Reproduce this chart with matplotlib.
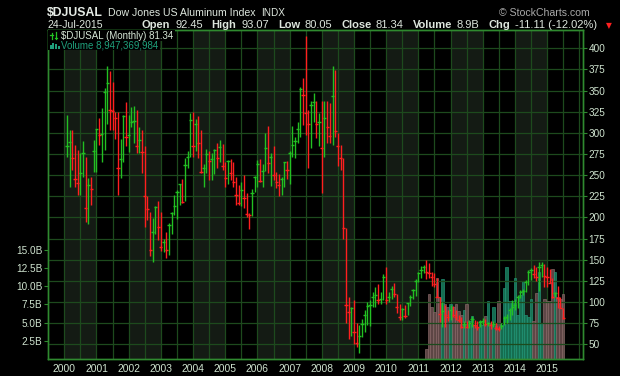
import matplotlib
matplotlib.use("Agg")
import matplotlib.pyplot as plt
from matplotlib.patches import Rectangle
from matplotlib.lines import Line2D
import numpy as np

plt.rcParams['font.family'] = ['Liberation Sans', 'DejaVu Sans']

# monthly bars of $DJUSAL, Feb 2000 .. Jul 2015 (month index 0 = Jan 2000)
first_month = 1
highs = [321, 303, 303, 286, 280, 276, 290, 272, 247, 248, 292, 305, 318, 329, 353, 379,
         373, 360, 325, 325, 293, 321, 336, 321, 331, 332, 327, 307, 303, 284, 225,
         206, 199, 214, 219, 206, 174, 183, 193, 206, 226, 232, 240, 245, 270, 278, 324,
         325, 316, 320, 303, 263, 281, 278, 276, 281, 288, 292, 287, 266, 268, 269, 266,
         248, 238, 241.5, 250, 228.5, 205, 234, 249, 268, 269, 263, 300, 308, 276, 284.5,
         254, 251, 248, 265, 267, 278, 308, 295.5, 313, 354, 365, 414, 327, 338, 347,
         338, 324, 338, 338, 338, 335, 379, 374, 300, 286, 270, 187, 106, 94, 102, 75,
         73, 80, 90, 100, 102, 112, 118, 121, 112, 133, 141, 112, 119, 122, 109, 98,
         92.5, 96.5, 99, 108, 115, 127, 136, 142.6, 143.8, 149.7, 146, 136, 134, 128, 106,
         100, 97, 90, 97, 95, 90, 85, 82, 77, 77, 79, 84, 79, 77, 79, 81,
         79.5, 76, 77, 77, 75, 72, 75.6, 83.5, 85.5, 92.5, 102.4, 103, 108.3, 114.2, 115,
         126, 138, 140, 144, 141, 147.7, 147, 144.5, 141.7, 138.6, 128, 112.2, 118.9,
         106.3, 93.07]
lows = [271, 236, 256, 236, 227, 227, 248, 194, 192, 215, 254, 254, 286, 266, 280, 311,
        303, 303, 293, 227, 247, 265, 284, 277, 307, 288, 276, 276, 252, 189, 197,
        154, 147, 180, 173, 160, 159, 152, 156, 180, 203, 198, 215, 217, 219, 259, 272,
        271, 278, 270, 253, 236, 252, 244, 244, 251, 258, 266, 256, 236, 240, 244, 236,
        215, 215, 213, 211, 200, 186, 202, 230.5, 236, 242, 236, 255, 253, 237, 244,
        235, 225, 226.5, 236, 246, 239, 272, 270, 288, 295, 309, 298, 258, 282.5, 313,
        294, 284, 228.5, 272, 288, 288, 286, 295.5, 261, 256, 175, 75, 56, 60, 50, 47,
        40, 59, 64, 73, 72, 94, 94, 98, 98, 102, 98, 100, 104, 106, 87, 79,
        79, 80.7, 85, 95, 104, 107, 124, 128, 134, 127, 128, 119, 118, 106, 76,
        70, 71, 78, 79, 82, 79, 76, 69, 69, 69, 69, 71, 69, 67, 71, 73,
        71.7, 72, 68, 71, 67, 66, 67.7, 72.8, 74.8, 78.7, 84.7, 90.6, 92.5, 104.4, 108,
        112, 120, 126, 128, 125, 113, 130, 118, 118, 122, 104.3, 106.3, 92.5,
        92.5, 80.05]
closes = [284.5, 289, 270, 245, 241, 252, 276, 211, 238, 234, 279, 305, 297.5, 298.5, 348, 359,
          326.5, 326, 317, 258, 269, 320.5, 295.5, 298, 313, 314, 284, 292, 277, 225, 210,
          161, 183, 212, 189, 165, 170.5, 161, 191, 205, 213, 230.5, 239, 218, 261.6, 272, 315,
          284.5, 310, 287.6, 254, 259, 274.6, 266.7, 269, 279.7, 270, 283, 261, 247, 267, 253, 242,
          226.5, 217.5, 233, 222.6, 204, 203, 228.5, 247.4, 263, 243.5, 255, 282, 264, 271, 250,
          242, 238, 246, 265, 256, 276, 285.6, 290.8, 304, 351.5, 345, 323, 311, 333, 337,
          310, 313, 282, 317, 306.5, 296, 343.6, 302, 285, 270, 188, 96, 88, 93, 64, 52,
          60, 74.5, 84.6, 95, 97, 106, 108, 102, 104, 129, 102, 106, 115, 109, 94, 82,
          91.5, 83, 98.5, 106.3, 114, 125, 134.7, 137.9, 141.8, 136, 134, 129, 121, 106.3, 86,
          89, 85, 82, 91, 85, 82, 79, 71, 74, 71, 75, 80, 73, 71, 76, 78,
          74, 75, 72.8, 74, 69, 68, 71.7, 80.7, 82.7, 90.6, 93.7, 96.5, 106.3, 112.3, 113,
          124, 135, 138, 133, 129, 141, 144, 130.7, 129.9, 122.8, 106.3, 110.2, 104.3,
          92.45, 81.34]

# volume (billions), only reported from Apr 2011 on
vol_first = 135
volumes = [1.4, 8.9, 7.1, 6.4, 11.1, 8.5, 11.0, 7.5, 7.2, 7.6, 7.1, 7.6, 6.6, 6.1, 6.7, 7.6,
           5.2, 5.9, 4.7, 4.2, 5.2, 4.7, 5.9, 7.9, 4.8, 7.2, 4.5, 7.9, 4.7, 9.7, 12.7, 7.9,
           7.9, 11.1, 6.1, 8.8, 10.7, 6.1, 5.8, 8.2, 5.2, 9.0, 12.0, 5.0, 8.2, 7.9, 8.0, 12.3,
           12.0, 8.5, 8.2, 8.947]

years = list(range(2000, 2016))
price_ticks = list(range(50, 401, 25))
vol_ticks = [2.5, 5.0, 7.5, 10.0, 12.5, 15.0]

GREEN = "#22c022"
RED = "#ff1f1f"
GRID = "#1d4a1d"
BORDER = "#2f8a2f"
SHADE = "#141b14"
TXT = "#cfe3cf"

W, H = 620, 376
L, R, B, T = 48, 583, 359, 30

fig = plt.figure(figsize=(W / 100, H / 100), dpi=100, facecolor="black")
ax = fig.add_axes([L / W, 1 - B / H, (R - L) / W, (B - T) / H])
ax.set_facecolor("black")
px = ax.twinx()

ax.set_xlim(-6.08, 193.4)
ax.set_ylim(0, (B - T) / 7.28)
px.set_ylim(32.6, 421.6)

# alternate year shading + 6-month grid
for yr in years[::2]:
    m0 = 12 * (yr - 2000)
    ax.axvspan(m0, m0 + 12, color=SHADE, lw=0, zorder=0)
for m in range(0, 193, 6):
    ax.axvline(m, color=GRID, lw=0.9, zorder=0.5)
for p in price_ticks:
    px.axhline(p, color=GRID, lw=0.9, zorder=0.5)

c = np.array(closes)
up = np.r_[True, c[1:] >= c[:-1]]
xm = np.arange(first_month, first_month + len(closes))

# volume bars
vx = np.arange(vol_first, vol_first + len(volumes))
vup = up[vx - first_month]
ax.bar(vx, volumes, width=1.0, color=np.where(vup, "#187a5a", "#684d4d"),
       edgecolor=np.where(vup, "#23987a", "#8a6a6a"), linewidth=0.5, alpha=0.9, zorder=2)

# price bars
cols = np.where(up, GREEN, RED)
px.vlines(xm, lows, highs, colors=cols, lw=1.0, zorder=3)
px.hlines(c, xm - 0.6, xm + 0.6, colors=cols, lw=1.0, zorder=3)

for a in (ax, px):
    for s in a.spines.values():
        s.set_color(BORDER)
        s.set_linewidth(1.0)

ax.set_xticks([12 * (y - 2000) for y in years])
ax.set_xticklabels([str(y) for y in years])
ax.tick_params(axis="x", length=0, pad=3.5, labelsize=7.4, labelcolor=TXT)
ax.set_yticks(vol_ticks)
ax.set_yticklabels([f"{v:.1f}B" for v in vol_ticks])
ax.tick_params(axis="y", length=3, width=0.8, color=BORDER, pad=1, labelsize=7.2, labelcolor=TXT)
px.set_yticks(price_ticks)
px.set_yticklabels([str(p) for p in price_ticks])
px.tick_params(axis="y", length=3, width=0.8, color=BORDER, pad=1, labelsize=7.2, labelcolor=TXT)

r = fig.canvas.get_renderer()


def ftext(x, y, s, **kw):
    return fig.text(x / W, 1 - y / H, s, va="baseline", **kw)


def width(t):
    return t.get_window_extent(renderer=r).width


# header line 1
sym = ftext(47, 16.5, "$DJUSAL", fontsize=8.8, fontweight="bold", color="#e6ece6")
nx = 47 + width(sym) + 5
name = ftext(nx, 16, "Dow Jones US Aluminum Index", fontsize=7.6, color="#dde6dd")
ftext(nx + width(name) + 6, 16, "INDX", fontsize=7.2, color="#dde6dd")
ftext(590, 16, "\u00a9 StockCharts.com", fontsize=7.6, color="#a8a8a8", ha="right")

# header line 2
ftext(47, 28, "24-Jul-2015", fontsize=7.6, color="#dde6dd")
parts = [("Open", True), ("92.45", False), ("High", True), ("93.07", False),
         ("Low", True), ("80.05", False), ("Close", True), ("81.34", False),
         ("Volume", True), ("8.9B", False), ("Chg", True), ("-11.11 (-12.02%)", False)]
objs = [ftext(0, 28, s, fontsize=8.0, color="#dde6dd", fontweight="bold" if b else "normal")
        for s, b in parts]
tri = ftext(0, 28, "\u25bc", fontsize=5.5, color="#ff2020", family=["DejaVu Sans"])
widths = [width(o) for o in objs] + [width(tri)]
x0, x1 = 142, 612
gaps = []
for i in range(len(objs)):
    gaps.append(1.0 if i % 2 == 0 else 2.0)
unit = (x1 - x0 - sum(widths)) / sum(gaps)
x = x0
for o, w, g in zip(objs + [tri], widths, gaps + [0]):
    o.set_x(x / W)
    x += w + g * unit

# legend inside plot
l1 = ftext(61, 39.3, "$DJUSAL (Monthly) 81.34", fontsize=7.0, color="#d6e6d6")
l2 = ftext(61, 49.0, "Volume 8,947,369,984", fontsize=7.0, color="#1fa07c")
fig.patches.append(Rectangle((L / W, 1 - 40.5 / H), (61 + width(l1) + 2 - L) / W, 10.5 / H,
                             transform=fig.transFigure, facecolor="black", edgecolor="none", zorder=5))
fig.patches.append(Rectangle((L / W, 1 - 50.2 / H), (61 + width(l2) + 2 - L) / W, 9.8 / H,
                             transform=fig.transFigure, facecolor="black", edgecolor="none", zorder=5))
l1.set_zorder(6)
l2.set_zorder(6)
# tiny bar icon and volume icon
for ix, y0, y1, yt in [(51.5, 33, 39, 34.5), (56, 32, 39, 37.5)]:
    fig.lines.append(Line2D([ix / W, ix / W], [1 - y1 / H, 1 - y0 / H], transform=fig.transFigure,
                            color=GREEN, lw=0.9, zorder=7))
    fig.lines.append(Line2D([(ix - 1.2) / W, (ix + 1.2) / W], [1 - yt / H, 1 - yt / H],
                            transform=fig.transFigure, color=GREEN, lw=0.9, zorder=7))
for ix, h in [(51, 4), (53.5, 6), (56, 5), (58.5, 3)]:
    fig.patches.append(Rectangle(((ix - 1) / W, 1 - 49 / H), 2 / W, h / H, transform=fig.transFigure,
                                 facecolor="#1fa07c", edgecolor="none", zorder=7))

fig.savefig("out.png", dpi=100, facecolor="black")
